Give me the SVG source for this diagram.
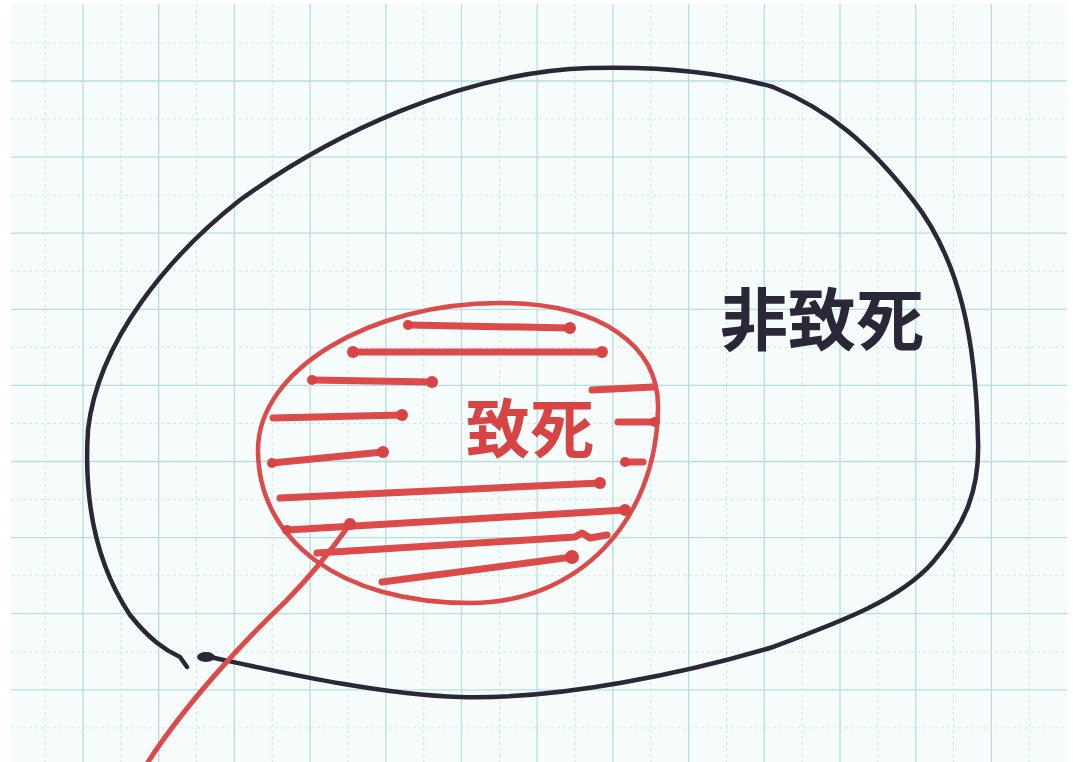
<svg xmlns="http://www.w3.org/2000/svg" width="1073" height="762" viewBox="0 0 1073 762">
<style>
.g1{stroke:#b9dcdc;stroke-width:1.3;fill:none}
.g2{stroke:#cfe6e6;stroke-width:1;stroke-dasharray:3 3;fill:none}
.blk{stroke:#2a2838;stroke-width:4.5;fill:none;stroke-linecap:round;stroke-linejoin:round}
.red{stroke:#dc4a4a;fill:none;stroke-linecap:round;stroke-linejoin:round}
.ring{stroke-width:4.5}
.hatch{stroke-width:7}
.dot{fill:#d84444}
.lbl{font-family:"Noto Sans CJK JP","Noto Sans CJK SC",sans-serif;font-weight:bold}
</style>
<rect x="0" y="0" width="1073" height="762" fill="#ffffff"/>
<rect x="11" y="4" width="1056" height="758" fill="#f6fcfc"/>
<g id="grid">
<path class="g1" d="M83 4V762M158.7 4V762M234.4 4V762M310.1 4V762M385.8 4V762M461.5 4V762M537.2 4V762M612.9 4V762M688.6 4V762M764.3 4V762M840 4V762M915.7 4V762M991.4 4V762M11 81H1067M11 157.1H1067M11 233.2H1067M11 309.3H1067M11 385.4H1067M11 461.5H1067M11 537.6H1067M11 613.7H1067M11 689.8H1067"/>
<path class="g2" d="M45.2 4V762M120.9 4V762M196.6 4V762M272.3 4V762M348 4V762M423.7 4V762M499.4 4V762M575.1 4V762M650.8 4V762M726.5 4V762M802.2 4V762M877.9 4V762M953.6 4V762M1029.3 4V762M11 43H1067M11 119H1067M11 195.2H1067M11 271.3H1067M11 347.4H1067M11 423.5H1067M11 499.6H1067M11 575.7H1067M11 651.8H1067M11 727.9H1067"/>
</g>
<g id="non-lethal">
<path class="blk" d="M205 656 C280 672 380 695 460 697 C560 700 690 672 773 647 C840 622 900 600 933 562 C965 525 980 490 978 440 C976 340 960 260 913 200 C870 145 830 110 773 87 C720 72 660 66 590 68 C460 72 330 135 240 200 C170 255 98 340 88 430 C83 510 100 570 130 615 C150 640 165 650 180 657 L187 667"/>
<ellipse cx="206" cy="657" rx="9" ry="5" fill="#2a2838"/>
<text class="lbl" x="822" y="345" font-size="68" text-anchor="middle" fill="#2a2838">非致死</text>
</g>
<g id="connectors">
<path class="red" stroke-width="5" d="M148 762 C185 705 240 645 285 602 C315 572 335 545 350 524"/>
</g>
<g id="lethal">
<path class="red ring" d="M258 450 C258 370 370 303 500 303 C600 303 660 345 658 410 C656 520 580 603 470 603 C340 603 258 540 258 450 Z"/>
<g class="red hatch">
<path d="M408 325 L570 328"/>
<path d="M353 352 L602 352"/>
<path d="M312 380 L432 382"/>
<path d="M273 418 L402 415"/>
<path d="M272 463 L383 452"/>
<path d="M280 498 L600 483"/>
<path d="M287 530 L625 510"/>
<path d="M317 553 L575 537 L582 533 L590 538 L607 535"/>
<path d="M382 582 L572 557"/>
<path d="M592 390 L653 387"/>
<path d="M618 422 L655 422"/>
<path d="M625 462 L643 462"/>
</g>
<g class="dot">
<circle cx="408" cy="325" r="5"/><circle cx="570" cy="328" r="6"/>
<circle cx="353" cy="352" r="6"/><circle cx="602" cy="352" r="6"/>
<circle cx="312" cy="380" r="5"/><circle cx="432" cy="382" r="6"/>
<circle cx="402" cy="415" r="6"/><circle cx="272" cy="463" r="5"/><circle cx="383" cy="452" r="6"/>
<circle cx="600" cy="483" r="6"/><circle cx="625" cy="510" r="6"/><circle cx="287" cy="530" r="5"/>
<circle cx="572" cy="557" r="7"/><circle cx="350" cy="524" r="6"/><circle cx="655" cy="422" r="5"/><circle cx="625" cy="462" r="5"/>
</g>
<text class="lbl" x="530" y="452" font-size="64" text-anchor="middle" fill="#d84444">致死</text>
</g>
</svg>
